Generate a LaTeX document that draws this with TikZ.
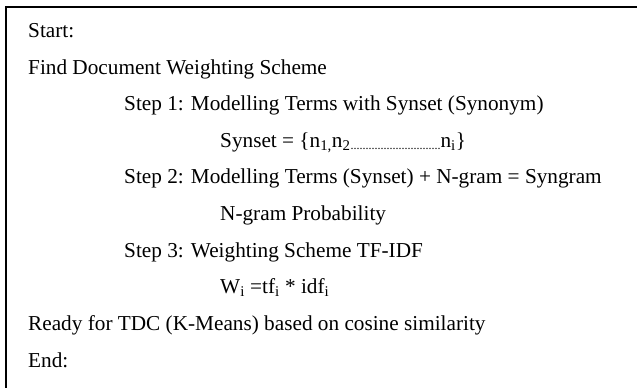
\documentclass[tikz,border=0pt]{standalone}
\usepackage{fontspec}
\setmainfont{Liberation Serif}
\begin{document}
\begin{tikzpicture}[x=1pt,y=-1pt,
  txt/.style={anchor=base west,inner sep=0pt,font=\fontsize{21.25}{25}\selectfont},
  frame/.style={line width=2pt,draw=black}]
\useasboundingbox (0,0) rectangle (637,388);
\clip (0,0) rectangle (637,388);
\draw[frame] (6.3,400) -- (6.3,6.8) -- (650,6.8);
\node[txt] (l1) at (28,37.3) {Start:};
\node[txt] (l2) at (28,74) {Find Document Weighting Scheme};
\node[txt] (l3) at (124,110.6) {Step 1: Modelling Terms with Synset (Synonym)};
\node[txt] (l4) at (220,147) {Synset = \{n\textsubscript{1,}n\textsubscript{2}\raisebox{-2.5pt}{\fontsize{12}{12}\selectfont ..............................}n\textsubscript{i}\}};
\node[txt] (l5) at (124,183.5) {Step 2: Modelling Terms (Synset) + N-gram = Syngram};
\node[txt] (l6) at (220,220.4) {N-gram Probability};
\node[txt] (l7) at (124,257.1) {Step 3: Weighting Scheme TF-IDF};
\node[txt] (l8) at (220,293.8) {W\textsubscript{i} =tf\textsubscript{i} * idf\textsubscript{i}};
\node[txt] (l9) at (28,330.5) {Ready for TDC (K-Means) based on cosine similarity};
\node[txt] (l10) at (28,367.2) {End:};
\end{tikzpicture}
\end{document}
